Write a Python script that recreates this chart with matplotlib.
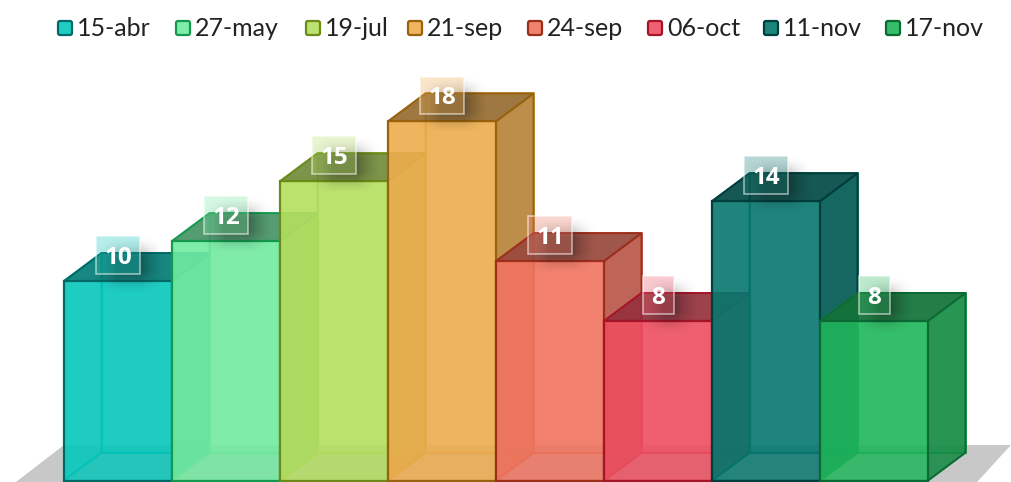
# Pseudo-3D translucent bars with boxed value labels. Axes fill the figure, so
# one category is 108 px wide and one value unit is about 20 px tall.
import matplotlib
matplotlib.use("Agg")
import matplotlib.pyplot as plt
import numpy as np
from matplotlib.colors import to_rgb
from matplotlib.patches import FancyBboxPatch, Polygon, Rectangle
from matplotlib.transforms import Affine2D

dates = ["15-abr", "27-may", "19-jul", "21-sep", "24-sep", "06-oct", "11-nov", "17-nov"]
values = [10, 12, 15, 18, 11, 8, 14, 8]
fills = ["#06C7BC", "#72EBA1", "#B5DF5F", "#EEAD4D", "#F17460", "#ED4E60", "#05776E", "#1EB65A"]
edges = ["#006A68", "#149A4E", "#6B8A18", "#98620E", "#9C2E1C", "#A5152A", "#003F3C", "#0C6B35"]
swatches = ["#1FCDC3", "#80EDAA", "#BCE26F", "#F0B55F", "#F28270", "#EF6070", "#1E857D", "#35BD6B"]

legend_x = [57, 175, 305, 407, 527, 647, 763, 885]
W, H = 1011, 482
DX, DY = 37.5 / 108, 28 / 20
XLIM = (-64 / 108, (W - 64) / 108)
YLIM = (-1.5 / 19.95, 480.5 / 19.95)

fig = plt.figure(figsize=(W / 100, H / 100), dpi=100)
ax = fig.add_axes([0, 0, 1, 1])
ax.axis("off")

# pixel coordinates for floor and legend, origin at top left
px = Affine2D().scale(1 / W, -1 / H).translate(0, 1) + fig.transFigure

ax.add_patch(Polygon([(16, 482), (64, 445), (1011, 445), (977, 482)], closed=True,
                     transform=px, fc="#c8c8c8", ec="none", zorder=0))


def dark(color, k):
    return tuple(np.array(to_rgb(color)) * k)


for i, (v, c, e) in enumerate(zip(values, fills, edges)):
    z = 2 + i
    x0, x1 = i, i + 1
    back = [(x0 + DX, DY), (x1 + DX, DY), (x1 + DX, v + DY), (x0 + DX, v + DY)]
    bottom = [(x0, 0), (x1, 0), (x1 + DX, DY), (x0 + DX, DY)]
    left = [(x0, 0), (x0 + DX, DY), (x0 + DX, v + DY), (x0, v)]
    right = [(x1, 0), (x1 + DX, DY), (x1 + DX, v + DY), (x1, v)]
    top = [(x0, v), (x1, v), (x1 + DX, v + DY), (x0 + DX, v + DY)]
    front = [(x0, 0), (x1, 0), (x1, v), (x0, v)]

    inner = dark(c, 0.88)
    ax.add_patch(Polygon(back, fc=(*to_rgb(c), 0.5), ec=inner, lw=1.3, zorder=z))
    ax.add_patch(Polygon(left, fc=(*to_rgb(c), 0.5), ec=inner, lw=1.3, zorder=z))
    ax.add_patch(Polygon(bottom, fc=(*dark(c, 0.85), 0.2), ec=inner, lw=1.3, zorder=z))
    ax.add_patch(Polygon(right, fc=(*dark(c, 0.75), 0.85), ec=e, lw=1.4, zorder=z))
    ax.add_patch(Polygon(top, fc=(*dark(c, 0.6), 0.85), ec=e, lw=1.4, zorder=z))
    ax.add_patch(Polygon(front, fc=(*to_rgb(c), 0.8), ec=e, lw=1.6, zorder=z))

# value labels: soft shadow, tinted box, white text
for i, (v, c) in enumerate(zip(values, swatches)):
    w = 44 if v >= 10 else 31
    cx, cy = i + 0.5, v + 1.3

    # blurred shadow as an image, lower right of the box
    sx = np.arange(-50.0, 51.0)
    sy = np.arange(-40.0, 41.0)
    ramp_x = np.clip((w / 2 + 14 - np.abs(sx)) / 24, 0, 1)
    ramp_y = np.clip((19 + 10 - np.abs(sy)) / 22, 0, 1)
    blur = 0.32 * np.outer(ramp_y, ramp_x) ** 1.5
    rgba = np.zeros((*blur.shape, 4))
    rgba[..., 3] = blur
    ox, oy = 11 / 108, -10 / 20
    ax.imshow(rgba, extent=(cx + ox - 50 / 108, cx + ox + 50 / 108, cy + oy - 2, cy + oy + 2),
              aspect="auto", interpolation="bilinear", zorder=20)

    ax.add_patch(Rectangle((cx - w / 216, cy - 19 / 20), w / 108, 38 / 20,
                           fc=(*to_rgb(c), 0.32), ec=(1, 1, 1, 0.55), lw=1.2, zorder=21))
    ax.text(cx, cy, str(v), ha="center", va="center_baseline", color="white",
            fontsize=17.5, fontweight="bold", family="Open Sans", zorder=22)

for x, d, c, e in zip(legend_x, dates, swatches, edges):
    ax.add_patch(FancyBboxPatch((x + 1, 21), 14, 14, boxstyle="round,pad=0,rounding_size=2",
                                transform=px, fc=c, ec=e, lw=1.6, zorder=25))
    ax.text(x + 20, 28, d, transform=px, ha="left", va="center", color="#222222",
            fontsize=18, family="Lato", zorder=25)

ax.set_xlim(*XLIM)
ax.set_ylim(*YLIM)
fig.savefig("out.png", dpi=100)
